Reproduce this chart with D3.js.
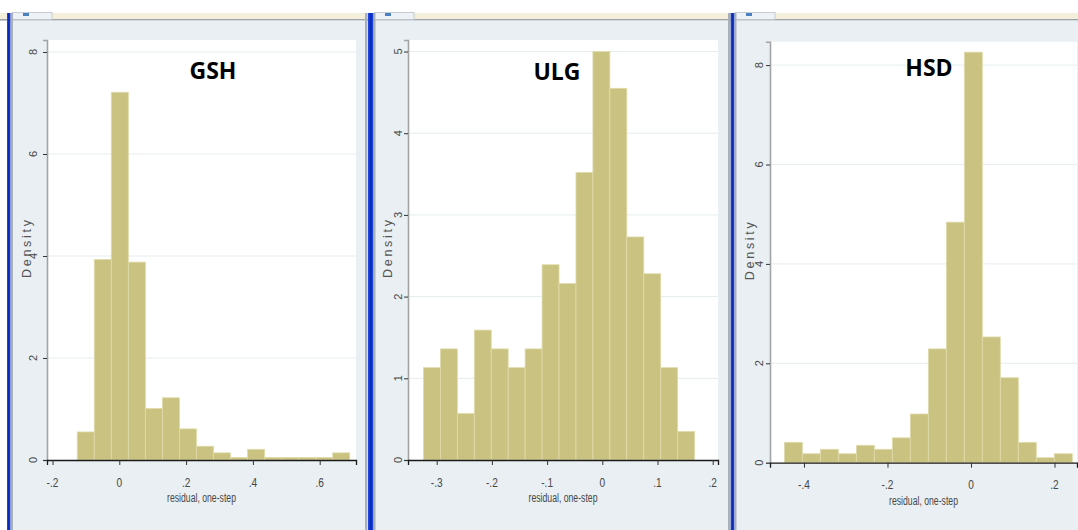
<!DOCTYPE html>
<html>
<head>
<meta charset="utf-8">
<script src="https://cdn.jsdelivr.net/npm/d3@7/dist/d3.min.js"></script>
<style>
  html, body { margin: 0; padding: 0; background: #ffffff; }
  svg { display: block; }
</style>
</head>
<body>
<svg id="chart" width="1078" height="530"></svg>
<script>
// Histogram densities of one-step residuals, one array per panel
const gshDensity = [0.55, 3.93, 7.21, 3.88, 1.01, 1.22, 0.61, 0.27, 0.14, 0.05, 0.21, 0.05, 0.05, 0.05, 0.05, 0.14];
const gshBinStart = -0.126;
const gshBinWidth = 0.051;

const ulgDensity = [1.13, 1.36, 0.57, 1.59, 1.36, 1.13, 1.36, 2.39, 2.16, 3.52, 5.0, 4.55, 2.73, 2.28, 1.13, 0.35];
const ulgBinStart = -0.324;
const ulgBinWidth = 0.0307;

const hsdDensity = [0.41, 0.18, 0.27, 0.18, 0.35, 0.27, 0.50, 0.98, 2.29, 4.84, 8.26, 2.53, 1.71, 0.41, 0.10, 0.18];
const hsdBinStart = -0.447;
const hsdBinWidth = 0.0431;

// Axis ticks and their labels
const gshXTicks = [-0.2, 0, 0.2, 0.4, 0.6];
const gshXLabels = ["-.2", "0", ".2", ".4", ".6"];
const gshYTicks = [0, 2, 4, 6, 8];

const ulgXTicks = [-0.3, -0.2, -0.1, 0, 0.1, 0.2];
const ulgXLabels = ["-.3", "-.2", "-.1", "0", ".1", ".2"];
const ulgYTicks = [0, 1, 2, 3, 4, 5];

const hsdXTicks = [-0.4, -0.2, 0, 0.2];
const hsdXLabels = ["-.4", "-.2", "0", ".2"];
const hsdYTicks = [0, 2, 4, 6, 8];

const panelTitles = ["GSH", "ULG", "HSD"];
const xTitle = "residual, one-step";
const yTitle = "Density";

// Panel layout (pixels) and axis ranges
const panels = [
  { title: panelTitles[0], density: gshDensity, start: gshBinStart, width: gshBinWidth,
    xTicks: gshXTicks, xLabels: gshXLabels, yTicks: gshYTicks,
    left: 47, right: 356, top: 40, bottom: 460, xDomain: [-0.2165, 0.7087], yMax: 8.235,
    winLeft: 13, winRight: 365, yLabelX: 37, yTitleX: 30.5, titleX: 213, titleY: 79 },
  { title: panelTitles[1], density: ulgDensity, start: ulgBinStart, width: ulgBinWidth,
    xTicks: ulgXTicks, xLabels: ulgXLabels, yTicks: ulgYTicks,
    left: 408, right: 718, top: 40, bottom: 460, xDomain: [-0.352, 0.2096], yMax: 5.141,
    winLeft: 375, winRight: 728, yLabelX: 402, yTitleX: 392, titleX: 557, titleY: 80 },
  { title: panelTitles[2], density: hsdDensity, start: hsdBinStart, width: hsdBinWidth,
    xTicks: hsdXTicks, xLabels: hsdXLabels, yTicks: hsdYTicks,
    left: 770, right: 1077, top: 41.7, bottom: 462.7, xDomain: [-0.4814, 0.2539], yMax: 8.471,
    winLeft: 736, winRight: 1078, yLabelX: 763, yTitleX: 753.5, titleX: 929, titleY: 76 }
];

const svg = d3.select("#chart");
const W = 1078, H = 530;

const barFill = "#c9c280";
const barEdge = "#e0dbab";
const regionBg = "#e9eff2";
const gridColor = "#e5edef";
const textColor = "#474747";
const axisFont = "'Liberation Sans', Arial, sans-serif";

// Window frame behind the graphs
svg.append("rect").attr("x", 0).attr("y", 0).attr("width", W).attr("height", H).attr("fill", "#ffffff");
svg.append("rect").attr("x", 0).attr("y", 13).attr("width", W).attr("height", 7).attr("fill", "#f4efdc");
svg.append("rect").attr("x", 0).attr("y", 19).attr("width", W).attr("height", 1.6).attr("fill", "#9ea4aa");

panels.forEach(p => {
  // graph region
  svg.append("rect").attr("x", p.winLeft).attr("y", 20.6)
    .attr("width", p.winRight - p.winLeft).attr("height", H - 20.6).attr("fill", regionBg);
  // tab at the top-left of the window
  svg.append("rect").attr("x", p.winLeft - 1).attr("y", 12.5).attr("width", 40).attr("height", 7)
    .attr("fill", "#eef2f6").attr("stroke", "#b9c2cc").attr("stroke-width", 0.8);
  svg.append("rect").attr("x", p.winLeft + 10).attr("y", 13).attr("width", 6).attr("height", 3)
    .attr("fill", "#4a7fc0");
});

// window edges: grey borders and blue splitters
[[7, 10.6], [368, 373.5], [730.5, 734.5]].forEach(([a, b]) => {
  svg.append("rect").attr("x", a).attr("y", 13).attr("width", b - a).attr("height", H - 13).attr("fill", "#1d44e0");
  svg.append("rect").attr("x", a + (b - a) * 0.3).attr("y", 13).attr("width", (b - a) * 0.4).attr("height", H - 13).attr("fill", "#0a2bb8");
});
[[10.6, 13], [365, 367.5], [373.5, 375.5], [728, 730.5], [734.5, 736.5]].forEach(([a, b]) => {
  svg.append("rect").attr("x", a).attr("y", 13).attr("width", b - a).attr("height", H - 13).attr("fill", "#a9b0b6");
});

// Condensed text helper
function condensedText(g, x, y, txt, size, sx, anchor) {
  return g.append("text")
    .attr("transform", `translate(${x},${y}) scale(${sx},1)`)
    .attr("text-anchor", anchor || "middle")
    .attr("font-family", axisFont)
    .attr("font-size", size)
    .attr("fill", textColor)
    .text(txt);
}

panels.forEach(p => {
  const g = svg.append("g");
  const x = d3.scaleLinear().domain(p.xDomain).range([p.left, p.right]);
  const y = d3.scaleLinear().domain([0, p.yMax]).range([p.bottom, p.top]);

  // plot region
  g.append("rect").attr("x", p.left).attr("y", p.top)
    .attr("width", p.right - p.left).attr("height", p.bottom - p.top).attr("fill", "#ffffff");

  // horizontal gridlines
  g.selectAll("line.grid").data(p.yTicks.filter(t => t > 0)).enter().append("line")
    .attr("x1", p.left).attr("x2", p.right)
    .attr("y1", d => y(d)).attr("y2", d => y(d))
    .attr("stroke", gridColor).attr("stroke-width", 1);

  // histogram bars
  const bins = p.density.map((d, i) => ({ x0: p.start + i * p.width, x1: p.start + (i + 1) * p.width, v: d }));
  g.selectAll("rect.bar").data(bins).enter().append("rect")
    .attr("x", d => x(d.x0))
    .attr("y", d => y(d.v))
    .attr("width", d => x(d.x1) - x(d.x0))
    .attr("height", d => y(0) - y(d.v))
    .attr("fill", barFill)
    .attr("stroke", barEdge)
    .attr("stroke-width", 0.8);

  // y axis
  const yAxis = d3.axisLeft(y).tickValues(p.yTicks).tickSize(4).tickFormat("");
  const ya = g.append("g").attr("transform", `translate(${p.left},0)`).call(yAxis);
  ya.select(".domain").attr("stroke", "#a3a3a3").attr("stroke-width", 1.6);
  ya.selectAll(".tick line").attr("stroke", "#333").attr("stroke-width", 1);

  p.yTicks.forEach(t => {
    g.append("text")
      .attr("transform", `translate(${p.yLabelX},${y(t)}) rotate(-90)`)
      .attr("text-anchor", "middle")
      .attr("font-family", axisFont)
      .attr("font-size", 11)
      .attr("fill", textColor)
      .text(d3.format("d")(t));
  });

  // x axis
  const xAxis = d3.axisBottom(x).tickValues(p.xTicks).tickSize(5).tickFormat("");
  const xa = g.append("g").attr("transform", `translate(0,${p.bottom})`).call(xAxis);
  xa.select(".domain").attr("stroke", "#1a1a1a").attr("stroke-width", 1.3);
  xa.selectAll(".tick line").attr("stroke", "#333").attr("stroke-width", 1);

  p.xTicks.forEach((t, i) => {
    condensedText(g, x(t), p.bottom + 26.5, p.xLabels[i], 13, 0.78);
  });

  // axis titles
  g.append("text")
    .attr("x", (p.left + p.right) / 2)
    .attr("y", p.bottom + 42)
    .attr("text-anchor", "middle")
    .attr("font-family", axisFont)
    .attr("font-size", 12.5)
    .attr("fill", textColor)
    .attr("textLength", 69)
    .attr("lengthAdjust", "spacingAndGlyphs")
    .text(xTitle);

  const yc = (p.top + p.bottom) / 2 - 1;
  g.append("text")
    .attr("transform", `translate(${p.yTitleX},${yc}) rotate(-90)`)
    .attr("x", -29)
    .attr("text-anchor", "start")
    .attr("font-family", axisFont)
    .attr("font-size", 12.5)
    .attr("fill", "#555555")
    .attr("textLength", 58)
    .attr("lengthAdjust", "spacing")
    .text(yTitle);

  // panel title
  g.append("text")
    .attr("x", p.titleX).attr("y", p.titleY)
    .attr("text-anchor", "middle")
    .attr("font-family", "'Open Sans', 'Noto Sans', sans-serif")
    .attr("font-weight", 700)
    .attr("font-size", 23)
    .attr("fill", "#000")
    .text(p.title);
});
</script>
</body>
</html>
